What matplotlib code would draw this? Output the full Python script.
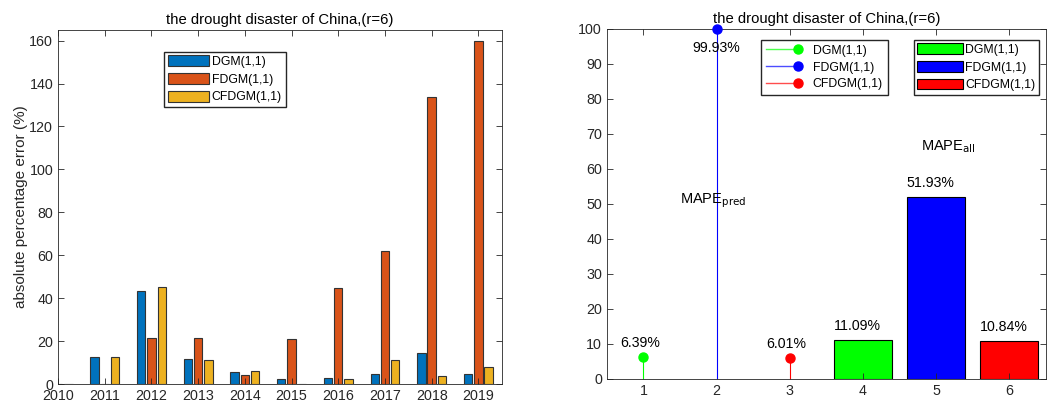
import numpy as np
import matplotlib
matplotlib.use("Agg")
import matplotlib.pyplot as plt
from matplotlib.lines import Line2D
from matplotlib.legend_handler import HandlerBase

plt.rcParams['font.family'] = ['Liberation Sans', 'DejaVu Sans']
plt.rcParams['font.size'] = 10.2

# left panel data
years = [2010, 2011, 2012, 2013, 2014, 2015, 2016, 2017, 2018, 2019]
ape_dgm = [0, 12.4, 43.4, 11.8, 5.6, 2.5, 2.6, 4.7, 14.3, 4.8]
ape_fdgm = [0, 0, 21.4, 21.4, 4.3, 21.1, 44.5, 61.9, 133.5, 160.0]
ape_cfdgm = [0, 12.5, 45.0, 11.0, 5.9, 0.2, 2.3, 11.0, 3.9, 7.9]

# right panel data
models = ['DGM(1,1)', 'FDGM(1,1)', 'CFDGM(1,1)']
mape_pred = [6.39, 99.93, 6.01]
mape_all = [11.09, 51.93, 10.84]

matlab_cols = ['#0072BD', '#D95319', '#EDB120']
rgb_cols = ['#00FF00', '#0000FF', '#FF0000']
grey = '#262626'

title = 'the drought disaster of China,(r=6)'
leg_fs = 8.8


def matlab_axes(ax):
    ax.tick_params(direction='in', top=True, right=True, colors=grey,
                   labelcolor=grey, length=4, width=0.6, labelsize=10.3)
    for s in ax.spines.values():
        s.set_color('#262626')
        s.set_linewidth(0.6)


class StemHandler(HandlerBase):
    def create_artists(self, legend, orig, xd, yd, w, h, fontsize, trans):
        y = h / 2 - yd
        c = orig.get_color()
        ln = Line2D([-xd, -xd + w], [y, y], color=c, lw=1, alpha=0.7)
        dot = Line2D([-xd + w], [y], marker='o', color=c, ms=6.5, ls='none')
        ln.set_transform(trans)
        dot.set_transform(trans)
        return [ln, dot]


fig = plt.figure(figsize=(10.59, 4.08), dpi=100)

# ---- left: absolute percentage errors per year
ax1 = fig.add_axes([0.0548, 0.0588, 0.419, 0.868])
x = np.array(years, dtype=float)
w = 0.18
bars = []
for off, vals, col, lab in zip([-0.22, 0, 0.22], [ape_dgm, ape_fdgm, ape_cfdgm],
                               matlab_cols, models):
    b = ax1.bar(x + off, vals, w, color=col, edgecolor='#333333', lw=0.8, label=lab)
    bars.append(b)
ax1.set_xlim(2010, 2019.5)
ax1.set_ylim(0, 165)
ax1.set_xticks(years)
ax1.set_yticks(range(0, 161, 20))
ax1.set_ylabel('absolute percentage error (%)', color=grey, fontsize=11, labelpad=1)
ax1.set_title(title, color='black', fontsize=10.7, pad=4)
matlab_axes(ax1)
ax1.legend(loc='upper left', bbox_to_anchor=(0.239, 0.938), fancybox=False,
           edgecolor='#262626', framealpha=1, fontsize=leg_fs, handlelength=3.4,
           handleheight=1.0, handletextpad=0.2, borderpad=0.3, labelspacing=0.4,
           borderaxespad=0)

# ---- right: MAPE stems and bars
ax2 = fig.add_axes([0.573, 0.0711, 0.4145, 0.858])
stem_handles = []
for i, (v, c, lab) in enumerate(zip(mape_pred, rgb_cols, models)):
    xi = i + 1
    ax2.vlines(xi, 0, v, color=c, lw=0.8)
    h, = ax2.plot([xi], [v], 'o', color=c, ms=6.5, label=lab, clip_on=False, zorder=5)
    stem_handles.append(h)
    if v > 90:
        ax2.text(xi, v - 5.5, f'{v:.2f}%', ha='center', va='center', color='black',
                 fontsize=10.2)
    else:
        ax2.text(xi - 0.05, v + 4, f'{v:.2f}%', ha='center', va='center', color='black',
                 fontsize=10.2)

bar_handles = []
for i, (v, c, lab) in enumerate(zip(mape_all, rgb_cols, models)):
    xi = i + 4
    b = ax2.bar(xi, v, 0.8, color=c, edgecolor='black', lw=0.8, label=lab)
    bar_handles.append(b)
    ax2.text(xi - 0.08, v + 4, f'{v:.2f}%', ha='center', va='center', color='black',
             fontsize=10.2)

ax2.text(1.5, 51, r'MAPE$_{\mathrm{pred}}$', ha='left', va='center', fontsize=10.5)
ax2.text(4.8, 66.5, r'MAPE$_{\mathrm{all}}$', ha='left', va='center', fontsize=10.5)

ax2.set_xlim(0.5, 6.5)
ax2.set_ylim(0, 100)
ax2.set_xticks(range(1, 7))
ax2.set_yticks(range(0, 101, 10))
ax2.set_title(title, color='black', fontsize=10.7, pad=4)
matlab_axes(ax2)

leg1 = ax2.legend(stem_handles, models, loc='upper left', bbox_to_anchor=(0.352, 0.969),
                  handler_map={Line2D: StemHandler()}, fancybox=False,
                  edgecolor='#262626', framealpha=1, fontsize=leg_fs, handlelength=2.6,
                  handletextpad=1.2, borderpad=0.4, labelspacing=0.4, borderaxespad=0)
ax2.add_artist(leg1)
ax2.legend(bar_handles, models, loc='upper left', bbox_to_anchor=(0.699, 0.969),
           fancybox=False, edgecolor='#262626', framealpha=1, fontsize=leg_fs,
           handlelength=3.7, handleheight=1.0, handletextpad=0.2, borderpad=0.3,
           labelspacing=0.4, borderaxespad=0)

fig.savefig('out.png', dpi=100)
